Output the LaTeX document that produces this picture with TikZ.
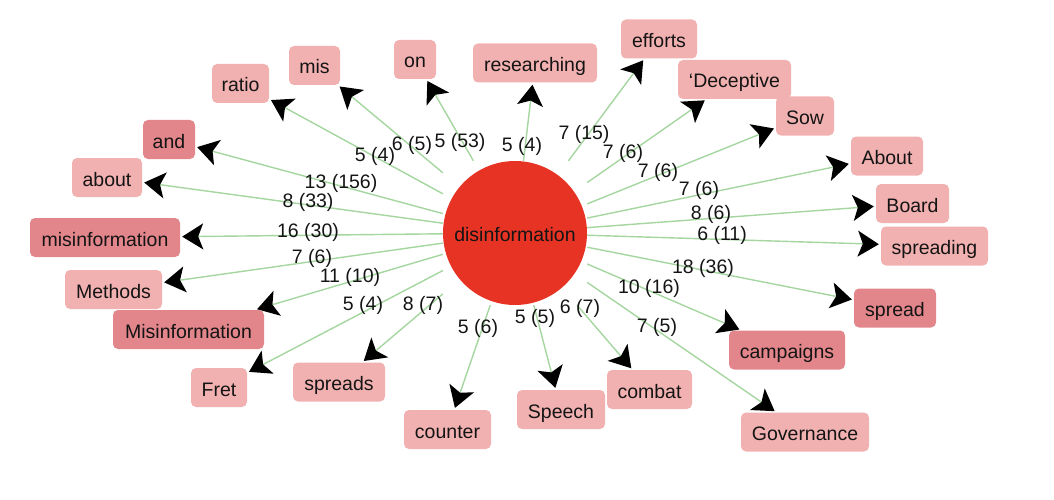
\documentclass[tikz,border=0pt]{standalone}
\usepackage{fontspec}
\setmainfont{Liberation Sans}
\usetikzlibrary{arrows.meta}
\definecolor{boxlight}{RGB}{242,177,177}
\definecolor{boxdark}{RGB}{226,134,139}
\definecolor{discol}{RGB}{231,51,35}
\definecolor{edgecol}{RGB}{165,214,160}
\definecolor{txt}{RGB}{20,20,20}
\begin{document}
\begin{tikzpicture}[x=1pt,y=-1pt,
  font=\fontsize{19.5}{22}\selectfont, text=txt,
  term/.style={rectangle, rounded corners=5pt, fill=boxlight, minimum height=39pt,
    inner xsep=0pt, text height=19pt, text depth=2pt},
  termdark/.style={term, fill=boxdark},
  link/.style={draw=edgecol, line width=1.4pt,
    -{Stealth[length=21pt,width=26pt,inset=5pt,color=black,fill=black]}, shorten >=2pt},
  lab/.style={inner sep=0pt}]
\useasboundingbox (0,0) rectangle (1054,500);

\node (c) [rectangle, minimum size=144pt, inner sep=0pt, text height=19pt, text depth=2pt,
  path picture={\fill[discol] (path picture bounding box.center) circle[radius=72pt];}]
  at (515,233) {disinformation};

\node (ratio) [term, minimum width=57pt] at (240.5,83.5) {ratio};
\node (mis) [term, minimum width=51pt] at (314.5,65.5) {mis};
\node (and) [termdark, minimum width=52pt] at (169,139.5) {and};
\node (about) [term, minimum width=70pt] at (107,177.5) {about};
\node (misinf) [termdark, minimum width=150pt] at (105,237.5) {misinformation};
\node (methods) [term, minimum width=97pt] at (113.5,289.5) {Methods};
\node (Misinf) [termdark, minimum width=151pt] at (188.5,329.5) {Misinformation};
\node (fret) [term, minimum width=56pt] at (219,387.5) {Fret};
\node (spreads) [term, minimum width=92pt] at (339,382) {spreads};
\node (counter) [term, minimum width=87pt] at (447.5,429.5) {counter};
\node (speech) [term, minimum width=88pt] at (561,409.5) {Speech};
\node (combat) [term, minimum width=85pt] at (649.5,389.5) {combat};
\node (gov) [term, minimum width=128pt] at (805,432) {Governance};
\node (camp) [termdark, minimum width=116pt] at (787,350) {campaigns};
\node (spread) [termdark, minimum width=82pt] at (895,308) {spread};
\node (spreading) [term, minimum width=107pt] at (934.5,246) {spreading};
\node (board) [term, minimum width=73pt] at (912.5,203.5) {Board};
\node (About) [term, minimum width=72pt] at (887,156) {About};
\node (sow) [term, minimum width=58pt] at (805,116) {Sow};
\node (decep) [term, minimum width=113pt] at (734.5,79.5) {‘Deceptive};
\node (efforts) [term, minimum width=76pt] at (659,39) {efforts};
\node (research) [term, minimum width=124pt] at (535,63) {researching};
\node (on) [term, minimum width=42pt] at (415,59.5) {on};

\foreach \t in {ratio,mis,and,about,misinf,methods,Misinf,fret,spreads,counter,speech,
  combat,gov,camp,spread,spreading,board,About,sow,decep,efforts,research,on}
  \draw[link] (c) -- (\t);

\node (l1) [lab] at (375,156) {5 (4)};
\node (l2) [lab] at (412,145) {6 (5)};
\node (l3) [lab] at (460,142) {5 (53)};
\node (l4) [lab] at (522,146) {5 (4)};
\node (l5) [lab] at (584,134) {7 (15)};
\node (l6) [lab] at (623,153) {7 (6)};
\node (l7) [lab] at (658,172) {7 (6)};
\node (l8) [lab] at (699,190) {7 (6)};
\node (l9) [lab] at (711,214) {8 (6)};
\node (l10) [lab] at (722,235) {6 (11)};
\node (l11) [lab] at (703,268) {18 (36)};
\node (l12) [lab] at (649,288) {10 (16)};
\node (l13) [lab] at (657,327) {7 (5)};
\node (l14) [lab] at (580,308) {6 (7)};
\node (l15) [lab] at (535,318) {5 (5)};
\node (l16) [lab] at (478,328) {5 (6)};
\node (l17) [lab] at (423,305) {8 (7)};
\node (l18) [lab] at (363,305) {5 (4)};
\node (l19) [lab] at (350,277) {11 (10)};
\node (l20) [lab] at (312,258) {7 (6)};
\node (l21) [lab] at (308,232) {16 (30)};
\node (l22) [lab] at (308,202) {8 (33)};
\node (l23) [lab] at (341,183) {13 (156)};
\end{tikzpicture}
\end{document}
